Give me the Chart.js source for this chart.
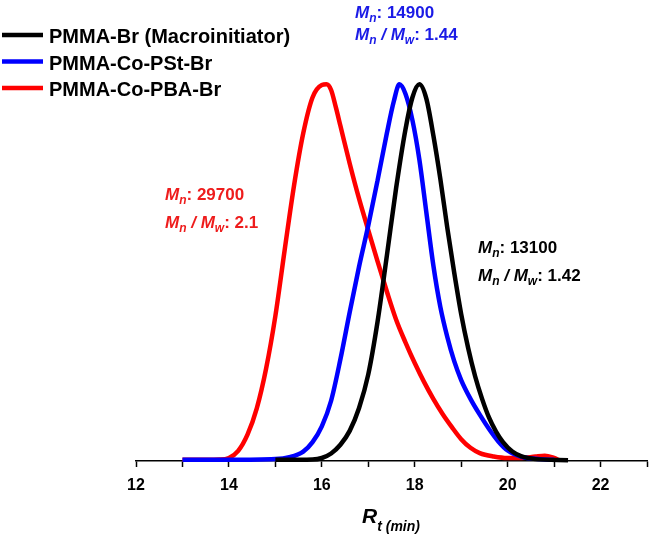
<!DOCTYPE html>
<html><head><meta charset="utf-8">
<script src="https://cdn.jsdelivr.net/npm/chart.js@4/dist/chart.umd.min.js"></script>
<style>html,body{margin:0;padding:0;background:#fff}</style>
</head><body>
<canvas id="c" width="656" height="541"></canvas>
<script>
// ---- data ----
const seriesNames = ['PMMA-Br (Macroinitiator)', 'PMMA-Co-PSt-Br', 'PMMA-Co-PBA-Br'];
const seriesColors = ['#000000', '#0000ff', '#ff0000'];

const blackX = [15.0, 15.8, 16.0, 16.2, 16.4, 16.6, 16.8, 17.0, 17.2, 17.4, 17.6, 17.8, 17.95, 18.1, 18.25, 18.4, 18.55, 18.7, 18.85, 19.0, 19.15, 19.3, 19.45, 19.6, 19.75, 19.9, 20.1, 20.3, 20.6, 21.3];
const blackY = [0.003, 0.004, 0.008, 0.02, 0.043, 0.08, 0.14, 0.23, 0.37, 0.545, 0.725, 0.88, 0.965, 1.0, 0.962, 0.865, 0.75, 0.62, 0.5, 0.39, 0.3, 0.225, 0.165, 0.115, 0.078, 0.05, 0.025, 0.012, 0.005, 0.002];

const blueX = [13.0, 14.0, 15.0, 15.3, 15.6, 15.8, 16.0, 16.2, 16.4, 16.6, 16.8, 17.0, 17.2, 17.4, 17.55, 17.67, 17.8, 17.95, 18.1, 18.25, 18.4, 18.55, 18.7, 18.85, 19.0, 19.2, 19.4, 19.6, 19.8, 20.0, 20.3, 20.7, 21.0];
const blueY = [0.003, 0.003, 0.005, 0.01, 0.025, 0.05, 0.092, 0.16, 0.27, 0.395, 0.515, 0.625, 0.745, 0.87, 0.955, 1.0, 0.975, 0.905, 0.8, 0.66, 0.52, 0.41, 0.33, 0.265, 0.215, 0.165, 0.123, 0.085, 0.052, 0.028, 0.011, 0.005, 0.003];

const redX = [13.0, 13.8, 14.0, 14.2, 14.4, 14.6, 14.8, 15.0, 15.2, 15.4, 15.6, 15.8, 16.0, 16.1, 16.2, 16.3, 16.4, 16.6, 16.8, 17.0, 17.2, 17.4, 17.6, 17.8, 18.0, 18.2, 18.4, 18.6, 18.8, 19.0, 19.2, 19.4, 19.7, 20.0, 20.3, 20.6, 20.8, 21.0, 21.1];
const redY = [0.003, 0.004, 0.008, 0.027, 0.07, 0.14, 0.245, 0.385, 0.56, 0.73, 0.87, 0.965, 0.998, 1.0, 0.985, 0.94, 0.89, 0.79, 0.697, 0.613, 0.53, 0.45, 0.375, 0.315, 0.26, 0.21, 0.165, 0.125, 0.09, 0.058, 0.035, 0.021, 0.012, 0.008, 0.008, 0.012, 0.014, 0.008, 0.003];

const tickLabels = ['12', '14', '16', '18', '20', '22'];
const xMin = 12, xMax = 23;

// annotation texts: [Mn value, Mn/Mw value]
const annBlack = ['13100', '1.42'];
const annBlue = ['14900', '1.44'];
const annRed = ['29700', '2.1'];

// ---- helpers ----
function pts(xs, ys) { return xs.map((x, i) => ({ x: x, y: ys[i] })); }
const FAM = '"Liberation Sans", Arial, sans-serif';

function rich(ctx, x, y, parts) {
  let cx = x;
  parts.forEach(p => {
    ctx.font = p[1];
    ctx.fillText(p[0], cx, y + (p[2] || 0));
    cx += ctx.measureText(p[0]).width;
  });
}
function annot(ctx, x, y1, y2, color, vals, sz) {
  ctx.fillStyle = color;
  ctx.textBaseline = 'alphabetic';
  ctx.textAlign = 'left';
  const it = 'italic bold ' + sz + 'px ' + FAM;
  const sub = 'italic bold ' + Math.round(sz * 0.72) + 'px ' + FAM;
  const bd = 'bold ' + sz + 'px ' + FAM;
  rich(ctx, x, y1, [['M', it], ['n', sub, 4], [': ' + vals[0], bd]]);
  rich(ctx, x, y2, [['M', it], ['n', sub, 4], [' / ', it], ['M', it], ['w', sub, 4], [': ' + vals[1], bd]]);
}

const textPlugin = {
  id: 'texts',
  afterDraw(chart) {
    const ctx = chart.ctx;
    ctx.save();
    // legend
    chart.data.datasets.forEach((ds, i) => {
      const y = 35 + i * 26.5;
      ctx.strokeStyle = ds.borderColor;
      ctx.lineWidth = 4.5;
      ctx.lineCap = 'butt';
      ctx.beginPath(); ctx.moveTo(2, y); ctx.lineTo(43, y); ctx.stroke();
      ctx.fillStyle = '#000';
      ctx.font = 'bold 20px ' + FAM;
      ctx.textBaseline = 'alphabetic';
      ctx.textAlign = 'left';
      ctx.fillText(ds.label, 49, y + 8);
    });
    // annotations
    annot(ctx, 355, 18, 40, '#1a1ae6', annBlue, 17);
    annot(ctx, 478, 253, 281, '#000000', annBlack, 17);
    annot(ctx, 165, 200, 228, '#ee1c1c', annRed, 17);
    // axis title
    ctx.fillStyle = '#000';
    rich(ctx, 362, 523, [['R', 'italic bold 21px ' + FAM], ['t (min)', 'italic bold 14px ' + FAM, 8]]);
    ctx.restore();
  }
};

const datasets = [
  { label: seriesNames[0], data: pts(blackX, blackY), borderColor: seriesColors[0] },
  { label: seriesNames[1], data: pts(blueX, blueY), borderColor: seriesColors[1] },
  { label: seriesNames[2], data: pts(redX, redY), borderColor: seriesColors[2] }
].map(d => Object.assign(d, { borderWidth: 4.5, pointRadius: 0, fill: false, cubicInterpolationMode: 'monotone', clip: false }));

new Chart(document.getElementById('c'), {
  type: 'line',
  data: { datasets: datasets },
  options: {
    responsive: false,
    animation: false,
    devicePixelRatio: 1,
    layout: { padding: { left: 136, right: 9, top: 9, bottom: 0 } },
    plugins: { legend: { display: false }, tooltip: { enabled: false } },
    scales: {
      x: {
        type: 'linear', min: xMin, max: xMax,
        ticks: {
          stepSize: 1, autoSkip: false, maxRotation: 0, color: '#000', padding: 9,
          font: { family: FAM, size: 16, weight: 'bold' },
          callback: v => tickLabels.includes(String(v)) ? String(v) : ''
        },
        grid: { drawOnChartArea: false, drawTicks: true, tickLength: 6, tickColor: '#000', tickWidth: 1.5 },
        border: { display: true, color: '#000', width: 1.5 },
        afterFit: s => { s.height = 80; }
      },
      y: { display: false, min: 0, max: 1.2 }
    }
  },
  plugins: [textPlugin]
});
</script>
</body></html>
